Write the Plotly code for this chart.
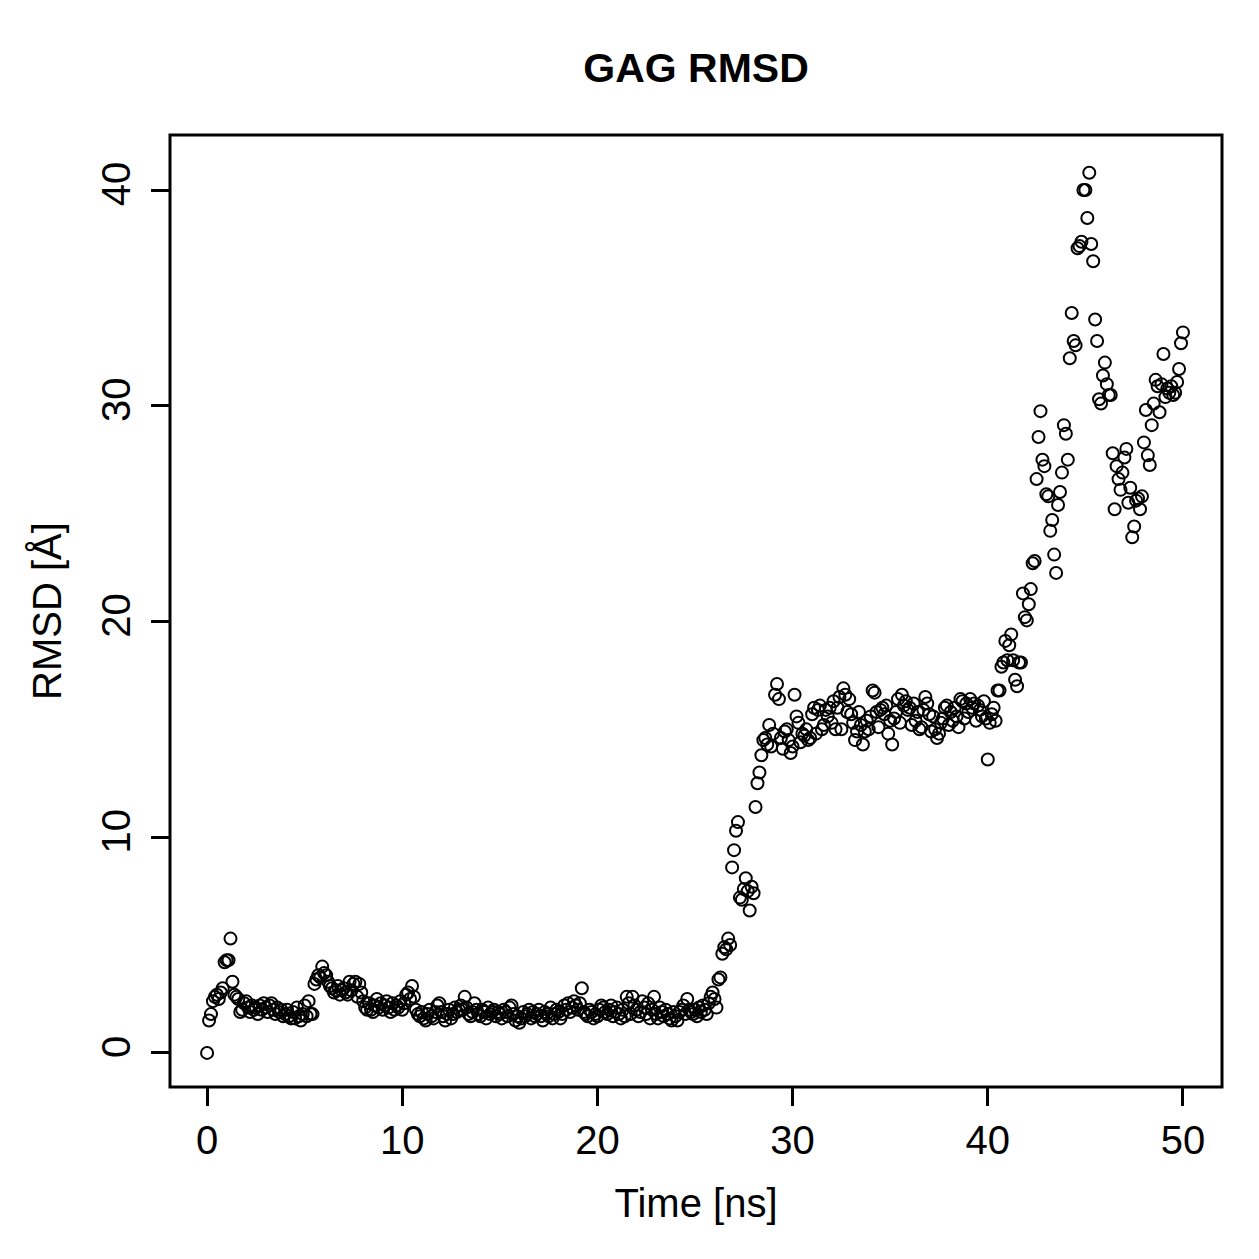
import plotly.graph_objects as go

time_ns = [round(i * 0.1, 1) for i in range(501)]

rmsd = [
    0.0, 1.5, 1.8, 2.4, 2.6, 2.7, 2.5, 2.8, 3.0, 4.2,
    4.3, 4.3, 5.3, 3.3, 2.7, 2.6, 2.5, 1.9, 2.0, 2.3,
    2.4, 2.1, 1.9, 2.2, 2.0, 2.1, 1.8, 2.2, 2.0, 2.3,
    2.1, 1.9, 2.2, 2.3, 2.0, 1.8, 2.1, 1.9, 2.0, 1.7,
    1.8, 2.0, 1.7, 1.6, 1.9, 1.6, 2.1, 1.7, 1.5, 1.8,
    2.2, 1.7, 2.4, 1.8, 1.8, 3.2, 3.4, 3.6, 3.5, 4.0,
    3.7, 3.6, 3.3, 3.1, 3.0, 2.8, 2.9, 3.1, 2.7, 2.9,
    3.0, 2.8, 2.7, 3.3, 2.9, 3.2, 3.3, 2.6, 3.2, 2.8,
    2.4, 2.1, 2.0, 2.3, 2.0, 1.9, 2.2, 2.5, 2.1, 2.3,
    2.0, 2.2, 2.4, 2.1, 1.9, 2.3, 2.0, 2.2, 2.1, 2.4,
    2.0, 2.3, 2.7, 2.8, 2.5, 3.1, 2.6, 2.0, 1.8, 1.7,
    1.9, 1.6, 1.5, 1.8, 2.0, 1.7, 1.6, 1.9, 2.2, 2.3,
    1.9, 1.7, 1.5, 1.8, 2.0, 1.6, 1.8, 2.1, 1.9, 2.0,
    2.2, 2.0, 2.6, 2.1, 1.8, 1.7, 1.9, 2.3, 2.0, 1.8,
    1.7, 2.0, 1.9, 1.6, 2.1, 1.8, 1.9, 2.0, 1.7, 1.9,
    1.8, 1.6, 2.0, 1.9, 1.7, 2.1, 2.2, 1.8, 1.5, 1.7,
    1.4, 1.6, 1.9, 1.7, 1.8, 2.0, 1.6, 1.9, 1.7, 1.8,
    2.0, 1.7, 1.5, 1.9, 1.8, 1.7, 2.1, 1.6, 1.8, 2.0,
    1.9, 1.6, 1.8, 2.2, 2.0, 2.3, 1.9, 2.1, 2.4, 2.2,
    2.0, 2.3, 3.0, 1.9, 1.8, 1.7, 2.0, 1.9, 1.6, 1.8,
    1.7, 2.0, 2.2, 2.1, 1.9, 1.8, 2.0, 2.2, 1.7, 1.9,
    2.1, 1.8, 1.6, 2.0, 1.7, 2.6, 2.3, 1.8, 2.6, 2.2,
    2.0, 1.7, 1.9, 2.4, 2.1, 1.8, 2.3, 1.6, 2.0, 2.6,
    1.8, 1.6, 2.1, 1.9, 1.7, 2.0, 1.8, 1.6, 1.5, 1.9,
    1.7, 1.5, 1.9, 2.0, 2.2, 1.8, 2.5, 2.0, 1.9, 1.8,
    2.0, 1.7, 2.1, 1.9, 2.2, 2.0, 1.8, 2.3, 2.6, 2.8,
    2.5, 2.1, 3.4, 3.5, 4.6, 4.9, 4.8, 5.3, 5.0, 8.6,
    9.4, 10.3, 10.7, 7.2, 7.1, 7.6, 8.1, 7.5, 6.6, 7.7,
    7.4, 11.4, 12.5, 13.0, 13.8, 14.5, 14.6, 14.3, 15.2, 14.2,
    14.8, 16.6, 17.1, 16.4, 14.6, 14.1, 14.9, 15.0, 14.5, 13.9,
    14.2, 16.6, 15.6, 15.3, 14.4, 14.8, 14.7, 15.0, 14.5, 14.6,
    15.7, 16.0, 14.8, 15.9, 16.1, 15.0, 15.2, 15.9, 15.6, 16.0,
    15.3, 16.3, 15.0, 16.0, 16.5, 15.0, 16.9, 16.6, 15.8, 16.4,
    15.7, 15.3, 14.5, 14.9, 15.8, 15.2, 14.3, 14.9, 15.4, 15.0,
    15.6, 16.8, 16.7, 15.8, 15.1, 15.9, 16.0, 15.7, 16.1, 14.8,
    15.4, 14.3, 15.5, 15.8, 16.4, 15.3, 16.6, 16.1, 16.3, 15.9,
    16.0, 15.2, 16.2, 15.4, 15.8, 15.0, 15.1, 15.9, 16.5, 16.2,
    15.7, 14.9, 15.6, 15.0, 14.6, 14.8, 15.3, 15.5, 16.0, 16.1,
    15.2, 15.8, 15.4, 16.0, 15.6, 15.1, 16.4, 16.3, 15.5, 16.2,
    15.8, 16.4, 16.0, 16.2, 15.4, 16.1, 15.9, 15.6, 16.3, 15.5,
    13.6, 15.3, 15.7, 16.0, 15.4, 16.8, 16.8, 17.9, 18.1, 19.1,
    18.2, 18.9, 19.4, 18.2, 17.3, 17.0, 18.1, 18.1, 21.3, 20.2,
    20.05, 20.8, 21.5, 22.7, 22.8, 26.6, 28.55, 29.75, 27.5, 27.2,
    25.9, 25.8, 24.2, 24.7, 23.1, 22.25, 25.4, 26.0, 26.9, 29.1,
    28.7, 27.5, 32.2, 34.3, 33.0, 32.8, 37.3, 37.4, 37.6, 40.0,
    40.0, 38.7, 40.8, 37.5, 36.7, 34.0, 33.0, 30.3, 30.1, 31.4,
    32.0, 31.0, 30.5, 30.5, 27.8, 25.2, 27.2, 26.6, 26.1, 26.9,
    27.6, 28.0, 25.5, 26.2, 23.9, 24.4, 25.6, 25.7, 25.2, 25.8,
    28.3, 29.8, 27.7, 27.25, 29.1, 30.1, 31.2, 30.9, 29.7, 31.0,
    32.4, 30.4, 30.8, 30.6, 30.9, 30.5, 30.6, 31.1, 31.7, 32.9,
    33.4,
]

x_ticks = [0, 10, 20, 30, 40, 50]
y_ticks = [0, 10, 20, 30, 40]

FONT = "Liberation Sans, Arial, Helvetica, sans-serif"
FS = 40

fig = go.Figure()
fig.add_trace(go.Scatter(
    x=time_ns, y=rmsd, mode="markers",
    marker=dict(symbol="circle-open", size=12, color="black",
                line=dict(color="black", width=2)),
    showlegend=False,
))

fig.update_layout(
    width=1259, height=1259,
    margin=dict(l=170, r=37, t=135, b=172),
    paper_bgcolor="white", plot_bgcolor="white",
    font=dict(family=FONT, size=FS, color="black"),
    title=dict(text="<b>GAG RMSD</b>", x=(170 + 1222) / 2 / 1259, xanchor="center",
               y=1 - 68 / 1259, yanchor="middle",
               font=dict(family=FONT, size=41, color="black")),
    xaxis=dict(range=[-1.9, 52.0], tickvals=x_ticks, ticktext=[str(v) for v in x_ticks],
               ticks="outside", ticklen=18, tickwidth=3, tickcolor="black",
               ticklabelstandoff=0,
               showgrid=False, zeroline=False, showline=False,
               title=dict(text="Time [ns]", standoff=27, font=dict(size=FS)),
               tickfont=dict(size=FS)),
    yaxis=dict(range=[-1.58, 42.55], tickvals=y_ticks, ticktext=[str(v) for v in y_ticks],
               ticks="outside", ticklen=18, tickwidth=3, tickcolor="black",
               ticklabelstandoff=5,
               showgrid=False, zeroline=False, showline=False, tickangle=-90,
               title=dict(text="RMSD [Å]", standoff=20, font=dict(size=FS)),
               tickfont=dict(size=FS)),
    shapes=[dict(type="rect", xref="paper", yref="paper", x0=0, x1=1, y0=0, y1=1,
                 line=dict(color="black", width=3), fillcolor="rgba(0,0,0,0)")],
)

fig.write_html("out.html")
